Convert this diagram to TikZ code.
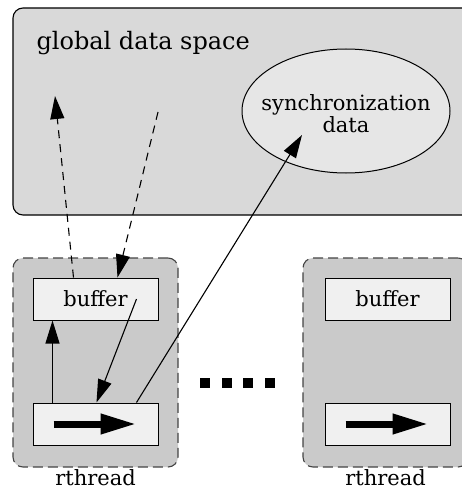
\documentclass[tikz,border=0pt]{standalone}
\usepackage{fontspec}
\setmainfont{DejaVu Serif}
\usetikzlibrary{arrows.meta, positioning, shapes.geometric}
\definecolor{spacegray}{HTML}{D9D9D9}
\definecolor{syncgray}{HTML}{E6E6E6}
\definecolor{threadgray}{HTML}{CACACA}
\definecolor{threadborder}{HTML}{444444}
\definecolor{slotgray}{HTML}{F0F0F0}

\begin{document}
\begin{tikzpicture}[x=1pt, y=-1pt, >={Triangle[length=23pt, width=14pt]},
    every node/.style={font=\fontsize{21}{22}\selectfont},
    slot/.style={draw, fill=slotgray, line width=1pt, minimum width=125pt,
      minimum height=42pt, inner sep=0pt},
    threadbox/.style={draw=threadborder, fill=threadgray, rounded corners=10pt,
      dash pattern=on 10pt off 5pt, line width=1.1pt, minimum width=165pt,
      minimum height=209pt},
    link/.style={->, line width=1.1pt},
    flow/.style={line width=7pt, -{Triangle[length=36pt, width=19pt]}}]
      \useasboundingbox (0,0) rectangle (462,492);
      \clip (0,0) rectangle (462,492);

      \node[draw, fill=spacegray, rounded corners=10pt, line width=1.1pt,
        minimum width=507pt, minimum height=207pt] (space) at (266.5,111.5) {};
      \node[anchor=base west, font=\fontsize{24}{28}\selectfont] (title)
        at (33,50) {global data space};
      \node[ellipse, draw, fill=syncgray, line width=1pt, minimum width=208pt,
        minimum height=124pt, inner sep=0pt, align=center] (sync)
        at (346,111) {};
      \node[align=center] (synctext) at (346,114) {synchronization\\data};

      \node[threadbox] (thrA) at (95.5,362.5) {};
      \node[threadbox] (thrB) at (385.5,362.5) {};
      \node[below=0pt of thrA, inner sep=2pt] (nameA) {rthread};
      \node[below=0pt of thrB, inner sep=2pt] (nameB) {rthread};

      \node[slot] (bufA) at (95.5,299) {buffer};
      \node[slot] (runA) at (95.5,424) {};
      \node[slot] (bufB) at (387.5,299) {buffer};
      \node[slot] (runB) at (387.5,424) {};

      \draw[flow] ([xshift=21pt]runA.west) -- ([xshift=104pt]runA.west);
      \draw[flow] ([xshift=21pt]runB.west) -- ([xshift=104pt]runB.west);

      \foreach \x in {200,221.5,243,264.5} {
        \fill (\x,378) rectangle ++(10,10);
      }

      \coordinate (outA) at (55,96);
      \coordinate (inA) at (158,112);
      \coordinate (synctip) at (302,135);
      \draw[link, dash pattern=on 8pt off 6pt]
        ([xshift=41pt]bufA.north west) -- (outA);
      \draw[link, dash pattern=on 8pt off 6pt]
        (inA) -- ([xshift=85pt]bufA.north west);
      \draw[link] ([xshift=20pt]runA.north west) -- ([xshift=20pt]bufA.south west);
      \draw[link] ([xshift=104pt]bufA.west) -- ([xshift=64pt]runA.north west);
      \draw[link] ([xshift=104pt]runA.north west) -- (synctip);
    \end{tikzpicture}
\end{document}
